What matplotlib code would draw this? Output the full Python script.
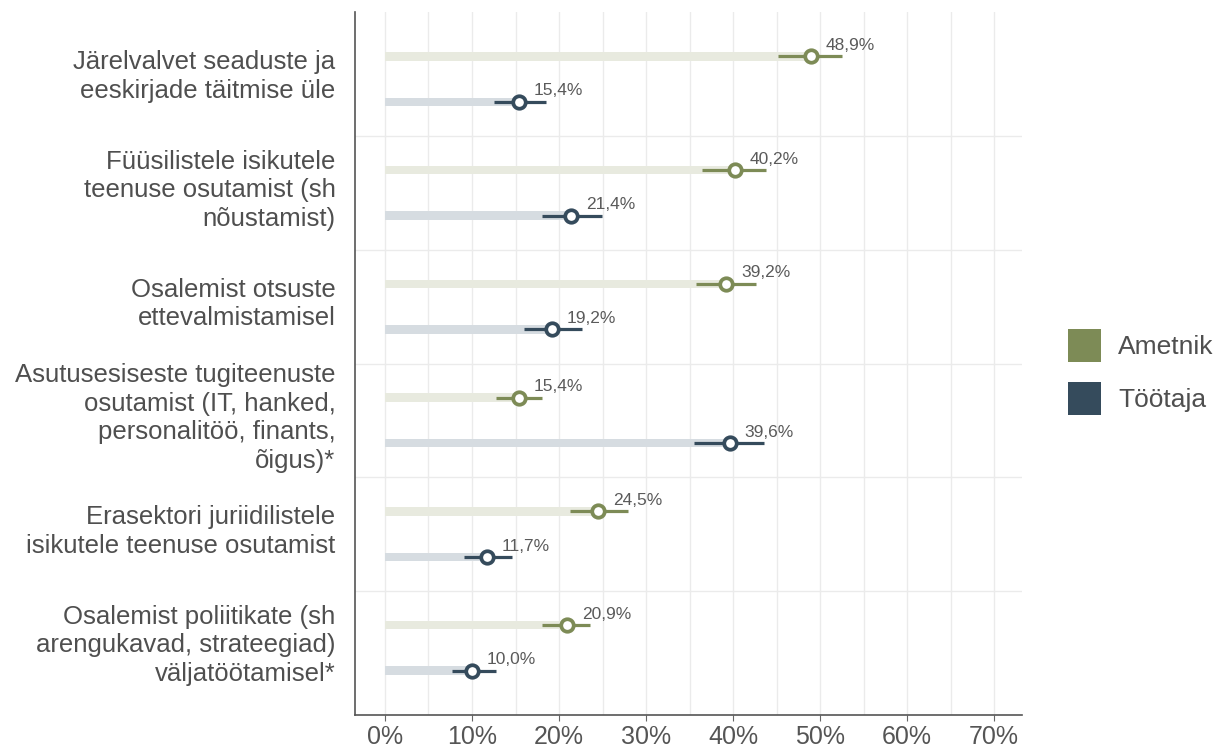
import numpy as np
import matplotlib.pyplot as plt
from matplotlib.patches import Patch

plt.rcParams['font.family'] = ['Liberation Sans', 'DejaVu Sans']

categories = [
    "Järelvalvet seaduste ja\neeskirjade täitmise üle",
    "Füüsilistele isikutele\nteenuse osutamist (sh\nnõustamist)",
    "Osalemist otsuste\nettevalmistamisel",
    "Asutusesiseste tugiteenuste\nosutamist (IT, hanked,\npersonalitöö, finants,\nõigus)*",
    "Erasektori juriidilistele\nisikutele teenuse osutamist",
    "Osalemist poliitikate (sh\narengukavad, strateegiad)\nväljatöötamisel*",
]
series = ["Ametnik", "Töötaja"]
ametnik = [48.9, 40.2, 39.2, 15.4, 24.5, 20.9]
ametnik_lo = [45.2, 36.4, 35.7, 12.8, 21.3, 18.0]
ametnik_hi = [52.5, 43.8, 42.6, 18.0, 27.9, 23.6]
tootaja = [15.4, 21.4, 19.2, 39.6, 11.7, 10.0]
tootaja_lo = [12.5, 18.0, 16.0, 35.5, 9.1, 7.7]
tootaja_hi = [18.5, 24.9, 22.6, 43.6, 14.6, 12.8]

colors = {"Ametnik": "#7d8b56", "Töötaja": "#354b5c"}
light = {"Ametnik": "#e8eadf", "Töötaja": "#d6dce1"}

fig = plt.figure(figsize=(12.24, 7.48), dpi=100)
ax = fig.add_axes([0.290, 0.044, 0.545, 0.940])

y = np.arange(len(categories))
offsets = {"Ametnik": -0.2, "Töötaja": 0.2}
data = {
    "Ametnik": (ametnik, ametnik_lo, ametnik_hi),
    "Töötaja": (tootaja, tootaja_lo, tootaja_hi),
}

for s in series:
    vals, lo, hi = data[s]
    yy = y + offsets[s]
    ax.barh(yy, vals, height=0.075, color=light[s], zorder=2)
    ax.hlines(yy, lo, hi, color=colors[s], lw=2.3, zorder=3)
    ax.plot(vals, yy, 'o', ms=9, mfc='white', mec=colors[s], mew=2.7, zorder=4)
    for v, yv in zip(vals, yy):
        ax.text(v + 1.7, yv - 0.03, f"{v:.1f}%".replace('.', ','),
                fontsize=12.5, color='#5a5a5a', ha='left', va='bottom', zorder=5)

ax.set_xlim(-3.45, 73.2)
ax.set_ylim(len(categories) - 1 + 0.59, -0.59)
ax.set_xticks(np.arange(0, 71, 10))
ax.set_xticklabels([f"{t}%" for t in range(0, 71, 10)], fontsize=18, color='#555555')
ax.set_xticks(np.arange(5, 71, 10), minor=True)
ax.set_yticks(y - 0.065)
ax.set_yticklabels(categories, fontsize=18.5, color='#4f4f4f', linespacing=1.25)
ax.tick_params(axis='y', length=0, pad=14)
ax.tick_params(axis='x', which='major', length=4, color='#666666', pad=3)
ax.tick_params(axis='x', which='minor', length=0)

for xv in np.arange(0, 71, 5):
    ax.axvline(xv, color='#ebebeb', lw=1, zorder=0)
for sep in np.arange(0.5, len(categories) - 1, 1):
    ax.axhline(sep, color='#ebebeb', lw=1, zorder=0)

for side in ['top', 'right']:
    ax.spines[side].set_visible(False)
for side in ['left', 'bottom']:
    ax.spines[side].set_color('#555555')
    ax.spines[side].set_linewidth(1.2)

handles = [Patch(facecolor=colors[s], edgecolor='none', label=s) for s in series]
fig.legend(handles=handles, loc='center left', bbox_to_anchor=(0.853, 0.503),
           frameon=False, fontsize=19, handlelength=1.25, handleheight=1.55,
           labelspacing=0.75, handletextpad=0.65, labelcolor='#4f4f4f')

fig.savefig("out.png", dpi=100)
